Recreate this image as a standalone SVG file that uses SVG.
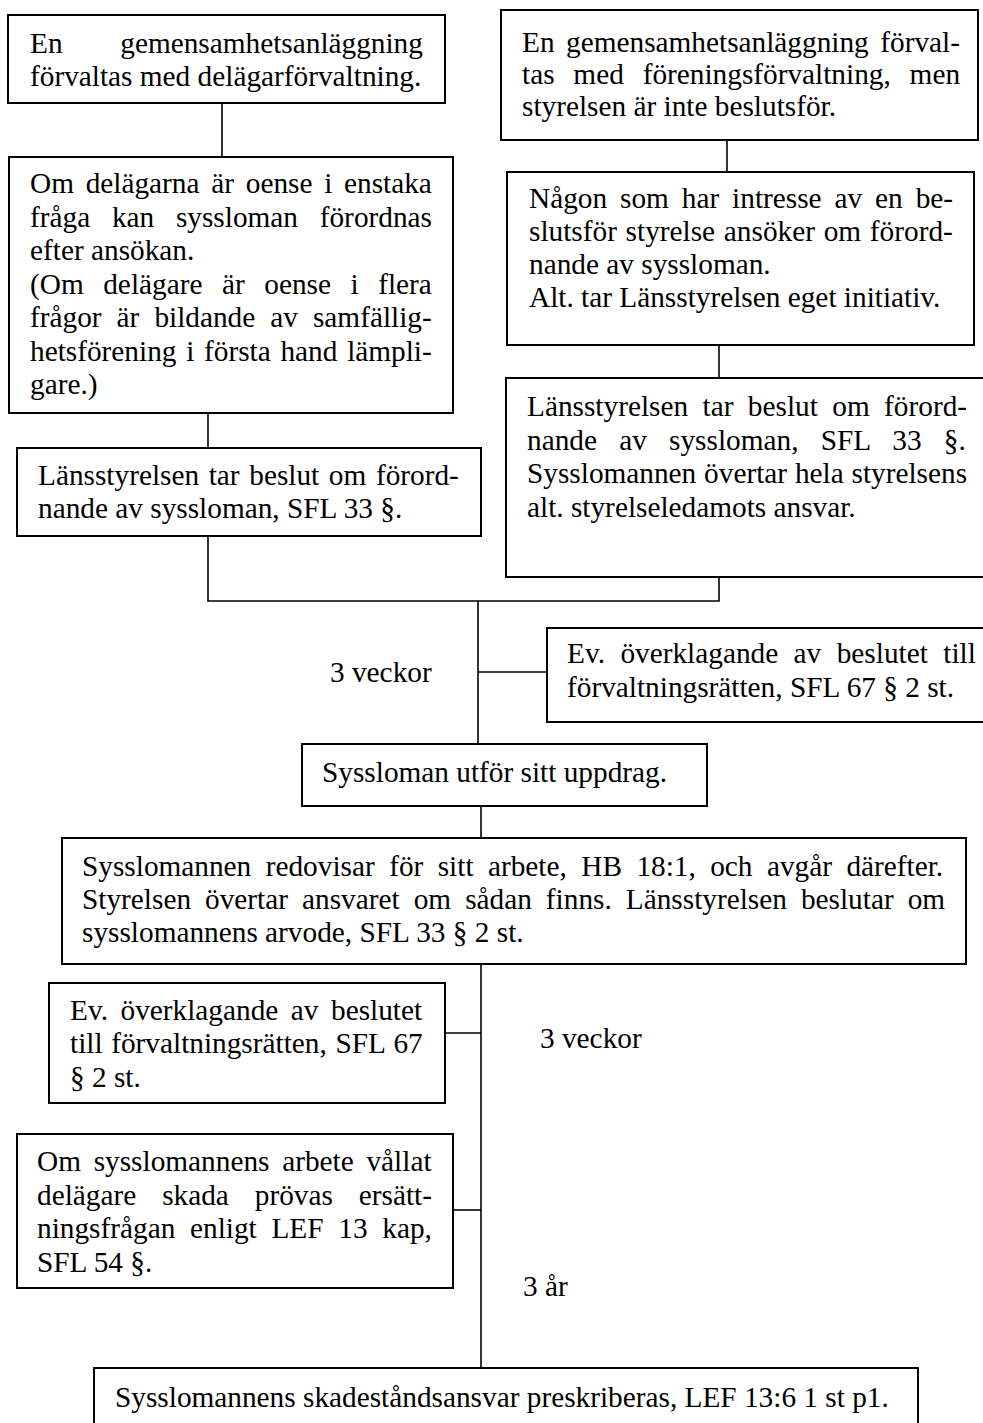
<svg xmlns="http://www.w3.org/2000/svg" width="983" height="1423" viewBox="0 0 983 1423">
<style>
.box{fill:#fff;stroke:#000;stroke-width:2}
.c{fill:none;stroke:#000;stroke-width:1.6}
.t{font-family:"Liberation Serif","Times New Roman",serif;font-size:29.3px;fill:#000}
</style>
<rect width="983" height="1423" fill="#fff"/>
<g id="connectors">
<line class="c" x1="222" y1="103" x2="222" y2="157"/>
<line class="c" x1="208" y1="413" x2="208" y2="448"/>
<polyline class="c" points="208,536 208,601 719,601 719,577"/>
<line class="c" x1="727" y1="140" x2="727" y2="172"/>
<line class="c" x1="719" y1="345" x2="719" y2="378"/>
<line class="c" x1="478" y1="601" x2="478" y2="744"/>
<line class="c" x1="478" y1="672" x2="547" y2="672"/>
<line class="c" x1="481" y1="806" x2="481" y2="838"/>
<line class="c" x1="481" y1="964" x2="481" y2="1368"/>
<line class="c" x1="445" y1="1033" x2="481" y2="1033"/>
<line class="c" x1="453" y1="1210" x2="481" y2="1210"/>
</g>
<g id="n1">
<rect class="box" x="8" y="15" width="437" height="88"/>
<text class="t"><tspan x="30" y="53" style="word-spacing:50.4px">En gemensamhetsanläggning</tspan><tspan x="30" y="86">förvaltas med delägarförvaltning.</tspan></text>
</g>
<g id="n2">
<rect class="box" x="9" y="157" width="444" height="256"/>
<text class="t"><tspan x="30" y="193" style="word-spacing:4.4px">Om delägarna är oense i enstaka</tspan><tspan x="30" y="226.5" style="word-spacing:14.4px">fråga kan syssloman förordnas</tspan><tspan x="30" y="260">efter ansökan.</tspan><tspan x="30" y="293.5" style="word-spacing:12.2px">(Om delägare är oense i flera</tspan><tspan x="30" y="327" style="word-spacing:7.7px">frågor är bildande av samfällig-</tspan><tspan x="30" y="360.5" style="word-spacing:2.4px">hetsförening i första hand lämpli-</tspan><tspan x="30" y="394">gare.)</tspan></text>
</g>
<g id="n3">
<rect class="box" x="17" y="448" width="464" height="88"/>
<text class="t"><tspan x="38" y="485" style="word-spacing:2.3px">Länsstyrelsen tar beslut om förord-</tspan><tspan x="38" y="518">nande av syssloman, SFL 33 §.</tspan></text>
</g>
<g id="n4">
<rect class="box" x="501" y="10" width="477" height="130"/>
<text class="t"><tspan x="522" y="52" style="word-spacing:4.2px">En gemensamhetsanläggning förval-</tspan><tspan x="522" y="84" style="word-spacing:11.5px">tas med föreningsförvaltning, men</tspan><tspan x="522" y="116">styrelsen är inte beslutsför.</tspan></text>
</g>
<g id="n5">
<rect class="box" x="507" y="172" width="467" height="173"/>
<text class="t"><tspan x="529" y="208" style="word-spacing:5.6px">Någon som har intresse av en be-</tspan><tspan x="529" y="241" style="word-spacing:1.4px">slutsför styrelse ansöker om förord-</tspan><tspan x="529" y="274">nande av syssloman.</tspan><tspan x="529" y="307">Alt. tar Länsstyrelsen eget initiativ.</tspan></text>
</g>
<g id="n6">
<rect class="box" x="506" y="378" width="490" height="199"/>
<text class="t"><tspan x="527" y="416" style="word-spacing:7.1px">Länsstyrelsen tar beslut om förord-</tspan><tspan x="527" y="450" style="word-spacing:14.9px">nande av syssloman, SFL 33 §.</tspan><tspan x="527" y="483" style="word-spacing:0.5px">Sysslomannen övertar hela styrelsens</tspan><tspan x="527" y="517">alt. styrelseledamots ansvar.</tspan></text>
</g>
<g id="l1">
<text class="t" x="330" y="682">3 veckor</text>
</g>
<g id="n7">
<rect class="box" x="547" y="628" width="450" height="94"/>
<text class="t"><tspan x="567" y="663" style="word-spacing:8.1px">Ev. överklagande av beslutet till</tspan><tspan x="567" y="697">förvaltningsrätten, SFL 67 § 2 st.</tspan></text>
</g>
<g id="n8">
<rect class="box" x="302" y="744" width="405" height="62"/>
<text class="t" x="322" y="782">Syssloman utför sitt uppdrag.</text>
</g>
<g id="n9">
<rect class="box" x="62" y="838" width="904" height="126"/>
<text class="t"><tspan x="82" y="876" style="word-spacing:7.1px">Sysslomannen redovisar för sitt arbete, HB 18:1, och avgår därefter.</tspan><tspan x="82" y="909" style="word-spacing:6.7px">Styrelsen övertar ansvaret om sådan finns. Länsstyrelsen beslutar om</tspan><tspan x="82" y="942">sysslomannens arvode, SFL 33 § 2 st.</tspan></text>
</g>
<g id="n10">
<rect class="box" x="49" y="983" width="396" height="120"/>
<text class="t"><tspan x="70" y="1020" style="word-spacing:5.2px">Ev. överklagande av beslutet</tspan><tspan x="70" y="1053" style="word-spacing:1.3px">till förvaltningsrätten, SFL 67</tspan><tspan x="70" y="1087">§ 2 st.</tspan></text>
</g>
<g id="l2">
<text class="t" x="540" y="1048">3 veckor</text>
</g>
<g id="n11">
<rect class="box" x="17" y="1134" width="436" height="154"/>
<text class="t"><tspan x="37" y="1171" style="word-spacing:5.4px">Om sysslomannens arbete vållat</tspan><tspan x="37" y="1204.5" style="word-spacing:18.6px">delägare skada prövas ersätt-</tspan><tspan x="37" y="1238" style="word-spacing:7.4px">ningsfrågan enligt LEF 13 kap,</tspan><tspan x="37" y="1271.5">SFL 54 §.</tspan></text>
</g>
<g id="l3">
<text class="t" x="523" y="1296">3 år</text>
</g>
<g id="n12">
<rect class="box" x="94" y="1368" width="824" height="80"/>
<text class="t" x="115" y="1407">Sysslomannens skadeståndsansvar preskriberas, LEF 13:6 1 st p1.</text>
</g>
</svg>
